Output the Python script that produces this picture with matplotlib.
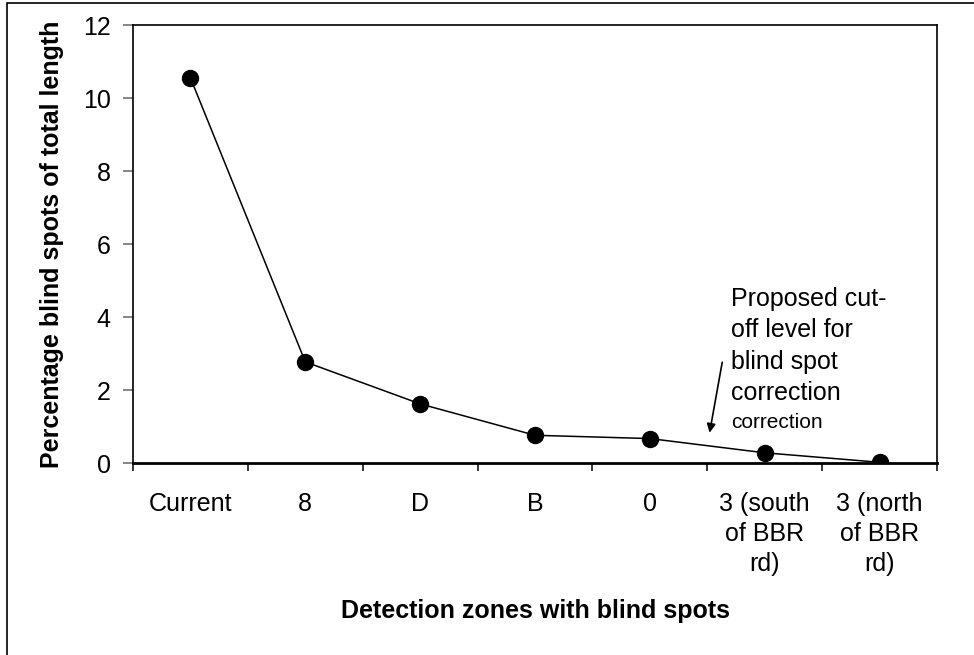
import matplotlib
matplotlib.use('Agg')
import matplotlib.pyplot as plt
from matplotlib.patches import Rectangle

plt.rcParams['font.family'] = ['Liberation Sans', 'DejaVu Sans']

# 자료
zones = ['Current', '8', 'D', 'B', '0', '3 (south\nof BBR\nrd)', '3 (north\nof BBR\nrd)']
blind_pct = [10.55, 2.77, 1.62, 0.76, 0.67, 0.28, 0.02]
y_ticks = [0, 2, 4, 6, 8, 10, 12]

fig = plt.figure(figsize=(9.74, 6.55), dpi=100)
ax = fig.add_axes([0.1366, 0.2931, 0.962 - 0.1366, 0.9618 - 0.2931])

x = list(range(len(zones)))
ax.plot(x, blind_pct, color='black', linewidth=1.1, marker='o',
        markersize=11.5, markerfacecolor='black', markeredgecolor='black')

ax.set_xlim(-0.5, len(zones) - 0.5)
ax.set_ylim(0, 12)
ax.set_yticks(y_ticks)

# 눈금은 범주 경계에, 라벨은 범주 중앙에
ax.set_xticks([i - 0.5 for i in range(len(zones) + 1)])
ax.set_xticklabels([])
ax.set_xticks(x, minor=True)
ax.set_xticklabels(zones, minor=True, fontsize=18, linespacing=1.3)
ax.tick_params(axis='x', which='minor', length=0, pad=21)
ax.tick_params(axis='x', which='major', direction='out', length=6, width=1.1, color='black')
ax.tick_params(axis='y', direction='out', length=7, width=1.1, color='#666666',
               labelsize=18, pad=9)

for side in ['left', 'top', 'right']:
    ax.spines[side].set_linewidth(1.2)
ax.spines['bottom'].set_linewidth(2.0)

ax.set_xlabel('Detection zones with blind spots', fontsize=18, fontweight='bold', labelpad=17)
ax.set_ylabel('Percentage blind spots of total length', fontsize=18, fontweight='bold', labelpad=14)

# 주석
ax.annotate('', xy=(4.52, 0.83), xytext=(4.63, 2.76),
            arrowprops=dict(arrowstyle='-|>', color='black', lw=1.2,
                            mutation_scale=13, shrinkA=0, shrinkB=0))
ax.text(4.71, 4.82, 'Proposed cut-\noff level for\nblind spot\ncorrection',
        fontsize=18, va='top', ha='left', linespacing=1.38)
ax.text(4.71, 1.11, 'correction', fontsize=15, va='center', ha='left')

# 그림 테두리
fig.patches.append(Rectangle((7 / 974, -0.1), 1.2, 1.1 - 3 / 655,
                             transform=fig.transFigure, fill=False,
                             edgecolor='black', linewidth=1.2))

fig.savefig('out.png', dpi=100)
